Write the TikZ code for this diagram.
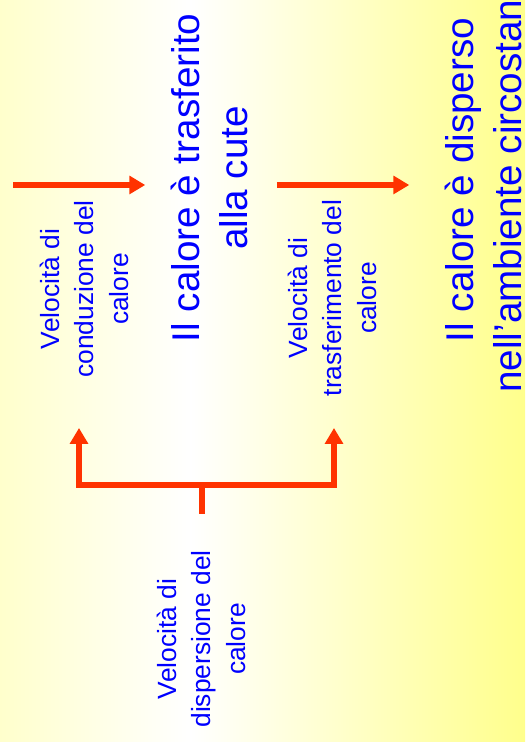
\documentclass[tikz,border=0pt]{standalone}
\usepackage{fontspec}
\setmainfont{Liberation Sans}
\usetikzlibrary{arrows.meta}
\definecolor{bgleft}{RGB}{255,255,204}
\definecolor{bgright}{RGB}{255,255,140}
\definecolor{arrowred}{RGB}{255,51,0}
\tikzstyle{bigtext} = [rotate=90, align=center, inner sep=0, text=blue, font=\fontsize{22}{27.3}\selectfont]
\tikzstyle{smalltext} = [rotate=90, align=center, inner sep=0, text=blue, font=\fontsize{15}{19.6}\selectfont]
\tikzstyle{flow} = [arrowred, line width=3pt, -{Triangle[length=9pt, width=10pt]}]
\tikzstyle{plain} = [arrowred, line width=3pt]

\begin{document}
\begin{tikzpicture}[x=0.02cm, y=0.02cm]

\useasboundingbox (0,0) rectangle (525,742);
\clip (0,0) rectangle (525,742);
\shade [left color=bgleft, right color=white] (0,0) rectangle (191,742);
\shade [left color=white, right color=bgright] (190,0) rectangle (525,742);

\node (trasf) [bigtext] at (209,564) {Il calore è trasferito\\alla cute};
\node (disp) [bigtext] at (483,562) {Il calore è disperso\\nell’ambiente circostante};
\node (condA) [smalltext] at (84,453) {Velocità di\\conduzione del\\calore};
\node (trasB) [smalltext] at (332,444) {Velocità di\\trasferimento del\\calore};
\node (dispC) [smalltext] at (201,103) {Velocità di\\dispersione del\\calore};

\coordinate (src) at (13,557);
\coordinate (fork) at (202,257);
\coordinate (tipA) at (79,314);
\coordinate (tipB) at (334,314);

\draw [flow, shorten >=0.5cm] (src) -- (src -| trasf.north);
\draw [flow, shorten <=0.58cm, shorten >=0.7cm] (src -| trasf.south) -- (src -| disp.north);
\draw [plain] ([yshift=0.73cm]fork |- dispC.east) -- (fork);
\draw [flow] (fork) -| (tipA);
\draw [flow] (fork) -| (tipB);

\end{tikzpicture}
\end{document}
